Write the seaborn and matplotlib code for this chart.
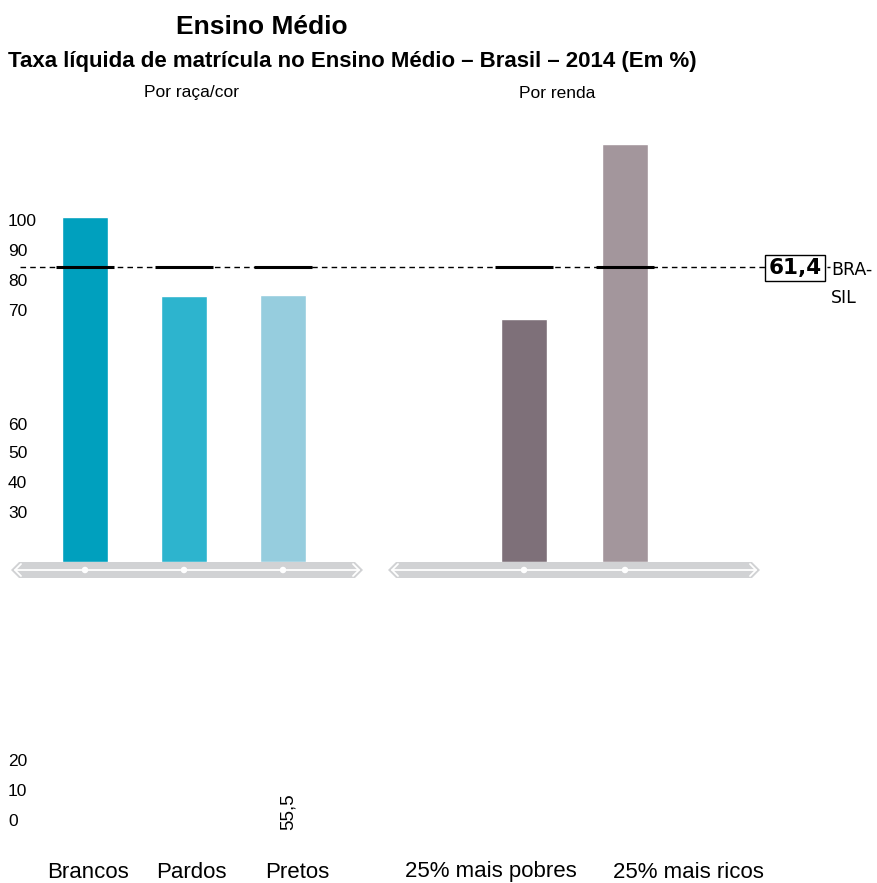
import matplotlib
matplotlib.use("Agg")
import matplotlib.pyplot as plt
import seaborn as sns
import pandas as pd
from matplotlib.patches import Polygon

# ---- data ----
race_cats = ["Brancos", "Pardos", "Pretos"]
race_vals = [71.8, 55.3, 55.5]
race_colors = ["#00A0BE", "#2DB4CE", "#96CDDE"]
income_cats = ["25% mais pobres", "25% mais ricos"]
income_vals = [50.6, 87.0]
income_colors = ["#7E7079", "#A3969C"]
brasil = 61.4
ytick_labels = ["100", "90", "80", "70", "60", "50", "40", "30", "20", "10", "0"]
ytick_py = [222, 252, 281, 311, 425, 454, 484, 513, 762, 791, 821]

sns.set_theme(style="white")
plt.rcParams["font.family"] = ["Liberation Sans", "DejaVu Sans"]
plt.rcParams["text.color"] = "black"

W, H = 877, 883
fig = plt.figure(figsize=(W / 100, H / 100), dpi=100)

def fx(px):
    return px / W

def fy(py):
    return 1 - py / H

PX_PER_UNIT = 4.805
BASE = 562
TOP = 100
ylim_top = (BASE - TOP) / PX_PER_UNIT

# overlay for decorative bands
ov = fig.add_axes([0, 0, 1, 1], zorder=0)
ov.set_xlim(0, W)
ov.set_ylim(H, 0)
ov.set_axis_off()

def band(x0, x1, yc=570, h=8):
    poly = Polygon([(x0, yc), (x0 + h, yc - h), (x1 - h, yc - h), (x1, yc),
                    (x1 - h, yc + h), (x0 + h, yc + h)], closed=True,
                   facecolor="#D1D2D4", edgecolor="none")
    ov.add_patch(poly)
    ov.plot([x0 + 4, x1 - 4], [yc, yc], color="white", lw=1.3)
    ov.plot([x0 + 10, x0 + 4, x0 + 10], [yc - 6, yc, yc + 6], color="white", lw=1.3)
    ov.plot([x1 - 10, x1 - 4, x1 - 10], [yc - 6, yc, yc + 6], color="white", lw=1.3)

band(11, 363)
band(388, 760)

def make_axes(x0, x1, center0, unit, cats, vals, colors):
    ax = fig.add_axes([fx(x0), fy(BASE), (x1 - x0) / W, (BASE - TOP) / H], zorder=1)
    ax.patch.set_alpha(0)
    df = pd.DataFrame({"cat": cats, "val": vals})
    sns.barplot(data=df, x="cat", y="val", hue="cat", palette=colors,
                width=46 / unit, legend=False, ax=ax, saturation=1)
    ax.set_xlim((x0 - center0) / unit, (x1 - center0) / unit)
    ax.set_ylim(0, ylim_top)
    ax.set_axis_off()
    pos = list(range(len(cats)))
    ax.hlines([brasil] * len(cats), [p - 0.29 for p in pos], [p + 0.29 for p in pos],
              color="black", lw=2.2, zorder=4)
    ax.scatter(pos, [-8 / PX_PER_UNIT] * len(pos), s=22, color="white",
               zorder=5, clip_on=False, edgecolors="none")
    return ax

ax1 = make_axes(10, 362, 85, 99, race_cats, race_vals, race_colors)
ax2 = make_axes(390, 760, 524, 101, income_cats, income_vals, income_colors)

# Brasil reference line across both panels
ax1.axhline(brasil, xmin=(20 - 10) / 352, xmax=(830 - 10) / 352, color="black",
            lw=1.0, linestyle=(0, (4, 3)), clip_on=False, zorder=2)

# titles
fig.text(fx(262), fy(27), "Ensino Médio", ha="center", va="center",
         fontsize=19, fontweight="bold")
fig.text(fx(8), fy(61), "Taxa líquida de matrícula no Ensino Médio – Brasil – 2014 (Em %)",
         ha="left", va="center", fontsize=16, fontweight="bold")
fig.text(fx(191), fy(93), "Por raça/cor", ha="center", va="center", fontsize=12.5)
fig.text(fx(557), fy(93), "Por renda", ha="center", va="center", fontsize=12.5)

# odd y tick labels
for lab, py in zip(ytick_labels, ytick_py):
    fig.text(fx(8), fy(py), lab, ha="left", va="center", fontsize=12.5)

# category labels
for lab, px in zip(race_cats + income_cats, [88, 191, 297, 491, 688]):
    fig.text(fx(px), fy(872), lab, ha="center", va="center", fontsize=16)

# rotated value label
fig.text(fx(288), fy(812), "55,5", rotation=90, ha="center", va="center", fontsize=13.5)

# Brasil box
fig.text(fx(795), fy(268), "61,4", ha="center", va="center", fontsize=15.5,
         fontweight="bold", family=["DejaVu Sans"],
         bbox=dict(boxstyle="square,pad=0.15", facecolor="white", edgecolor="black", lw=1))
fig.text(fx(831), fy(270), "BRA-", ha="left", va="center", fontsize=12.5,
         family=["DejaVu Sans"])
fig.text(fx(831), fy(298), "SIL", ha="left", va="center", fontsize=12.5,
         family=["DejaVu Sans"])

fig.savefig("out.png", dpi=100)
